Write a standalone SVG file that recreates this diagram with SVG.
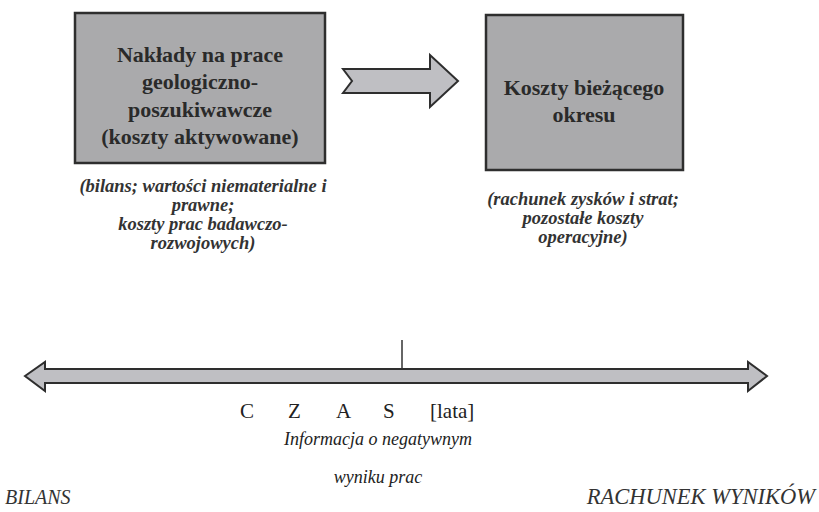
<svg xmlns="http://www.w3.org/2000/svg" width="819" height="512" viewBox="0 0 819 512">
<style>
text{font-family:"Liberation Serif","DejaVu Serif",serif}
.box{fill:#aaaaac;stroke:#2e2e2e;stroke-width:2.5}
.bt{font-weight:bold;font-size:22px;fill:#2a2a2a;text-anchor:middle}
.cap{font-style:italic;font-weight:bold;font-size:18.5px;fill:#333;text-anchor:middle}
.arr{fill:#bfbfc3;stroke:#2e2e2e;stroke-width:2}
.tm{font-size:21px;fill:#222}
.it{font-style:italic;font-size:18px;fill:#222;text-anchor:middle}
.lab{font-style:italic;font-size:20px;fill:#333}
</style>
<rect width="819" height="512" fill="#fff"/>
<g id="node-naklady">
<rect class="box" x="75" y="13" width="250" height="150"/>
<text class="bt" x="200" y="62">Nakłady na prace</text>
<text class="bt" x="200" y="89">geologiczno-</text>
<text class="bt" x="200" y="117">poszukiwawcze</text>
<text class="bt" x="200" y="144">(koszty aktywowane)</text>
</g>
<g id="caption-bilans">
<text class="cap" x="203" y="192">(bilans; wartości niematerialne i</text>
<text class="cap" x="203" y="211">prawne;</text>
<text class="cap" x="203" y="230">koszty prac badawczo-</text>
<text class="cap" x="203" y="249">rozwojowych)</text>
</g>
<g id="node-koszty">
<rect class="box" x="486" y="15" width="197" height="155"/>
<text class="bt" x="584" y="95">Koszty bieżącego</text>
<text class="bt" x="584" y="122">okresu</text>
</g>
<g id="caption-rachunek">
<text class="cap" x="583" y="205">(rachunek zysków i strat;</text>
<text class="cap" x="583" y="224">pozostałe koszty</text>
<text class="cap" x="583" y="243">operacyjne)</text>
</g>
<g id="connectors">
<path class="arr" d="M343,69 L430,69 L430,55 L458,81 L430,107 L430,93 L343,93 L352,81 Z"/>
<path class="arr" d="M25,376 L45,362 L45,369 L748,369 L748,362 L767,376 L748,391 L748,383 L45,383 L45,391 Z"/>
<line x1="402" y1="340" x2="402" y2="369" stroke="#333" stroke-width="1.5"/>
</g>
<g id="labels">
<text class="tm" x="240" y="418">C</text>
<text class="tm" x="288" y="418">Z</text>
<text class="tm" x="336" y="418">A</text>
<text class="tm" x="383" y="418">S</text>
<text class="tm" x="430" y="418">[lata]</text>
<text class="it" x="378" y="445">Informacja o negatywnym</text>
<text class="it" x="378" y="483">wyniku prac</text>
<text class="lab" x="5" y="504">BILANS</text>
<text class="lab" x="815" y="504" text-anchor="end" style="font-size:22.5px">RACHUNEK WYNIKÓW</text>
</g>
</svg>
